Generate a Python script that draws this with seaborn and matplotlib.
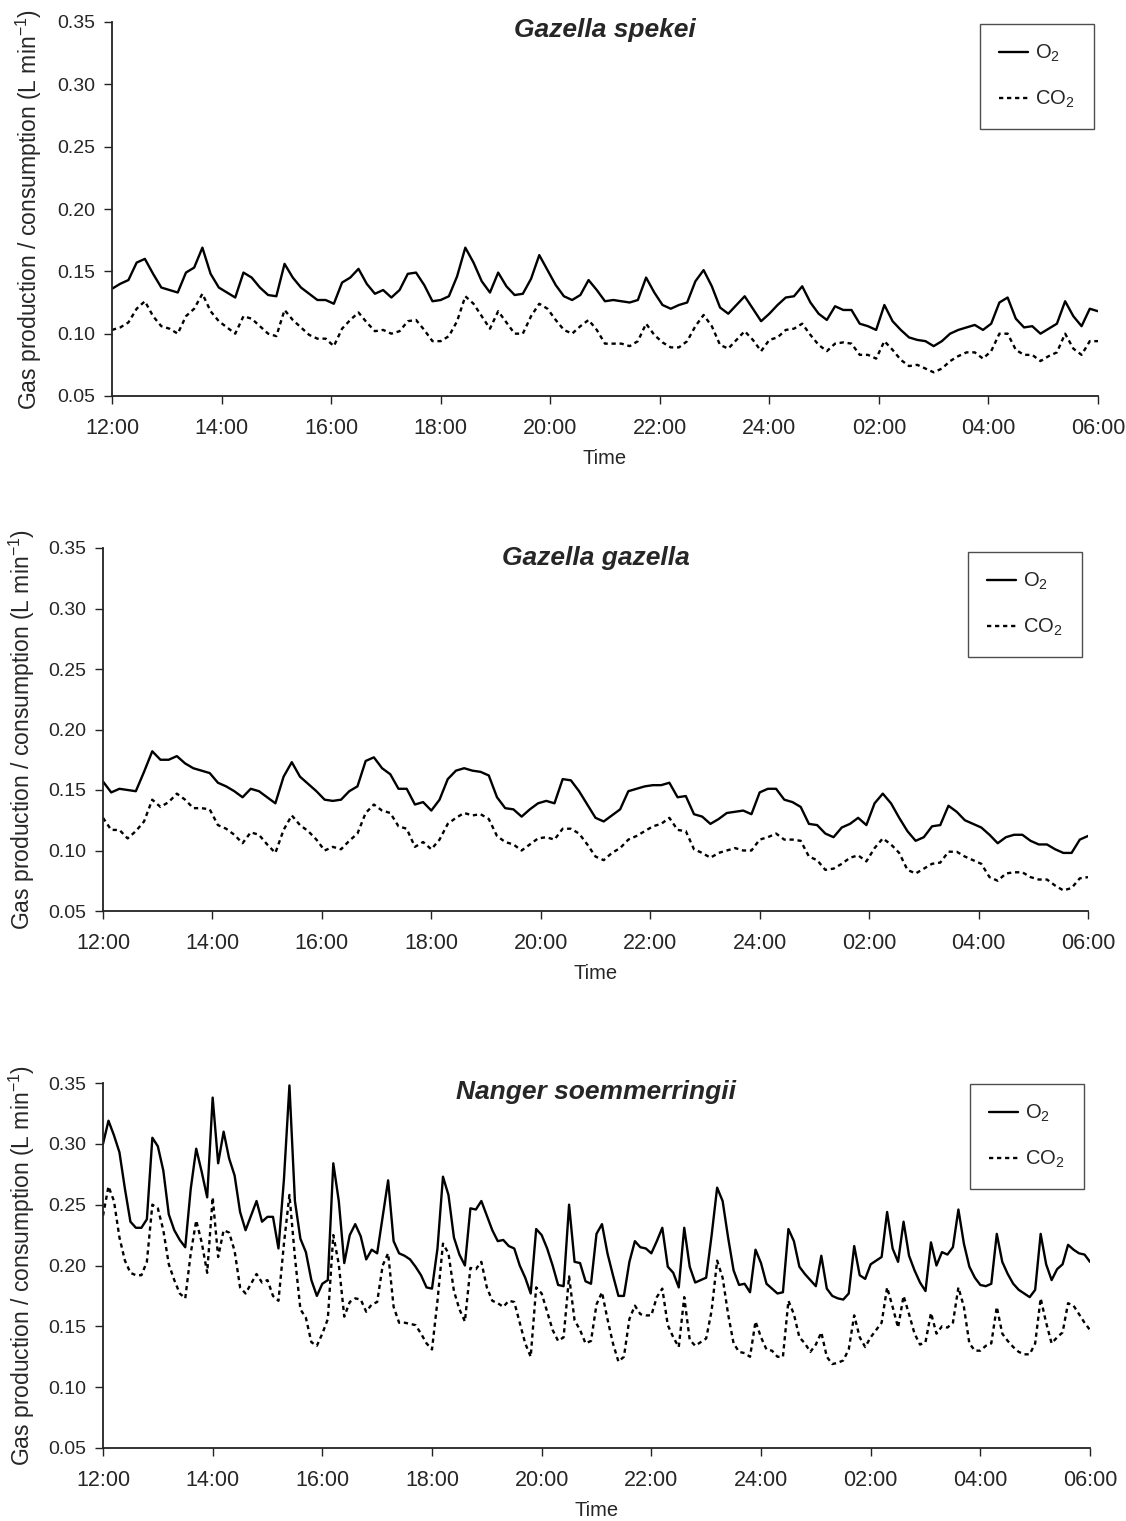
"""
Gas exchange (O2 consumption / CO2 production) over an 18 h run
for three gazelle species, one panel per species.
"""

import numpy as np
import pandas as pd
import matplotlib

matplotlib.use("Agg")
import matplotlib.pyplot as plt
import seaborn as sns

# ── Data (L min-1) ─────────────────────────────────────────────────────────
TICK_LABELS = ["12:00", "14:00", "16:00", "18:00", "20:00",
               "22:00", "24:00", "02:00", "04:00", "06:00"]
TICK_HOURS = [0, 2, 4, 6, 8, 10, 12, 14, 16, 18]

SPECIES = ["Gazella spekei", "Gazella gazella", "Nanger soemmerringii"]
SAMPLE_MIN = [9, 9, 6]  # sampling interval per panel, minutes

spekei_o2 = [
    0.136, 0.140, 0.143, 0.157, 0.160, 0.148, 0.137, 0.135, 0.133, 0.149,
    0.153, 0.169, 0.148, 0.137, 0.133, 0.129, 0.149, 0.145, 0.137, 0.131,
    0.130, 0.156, 0.145, 0.137, 0.132, 0.127, 0.127, 0.124, 0.141, 0.145,
    0.152, 0.140, 0.132, 0.135, 0.129, 0.135, 0.148, 0.149, 0.139, 0.126,
    0.127, 0.130,
    0.146, 0.169, 0.157, 0.142, 0.133, 0.149, 0.138, 0.131, 0.132, 0.144,
    0.163, 0.151, 0.139, 0.130, 0.127, 0.131, 0.143, 0.135, 0.126, 0.127,
    0.126, 0.125, 0.127, 0.145, 0.133, 0.123, 0.120, 0.123, 0.125, 0.142,
    0.151, 0.138, 0.121, 0.116, 0.123, 0.130, 0.120, 0.110, 0.116, 0.123,
    0.129,
    0.130, 0.138, 0.125, 0.116, 0.111, 0.122, 0.119, 0.119, 0.108, 0.106,
    0.103, 0.123, 0.110, 0.103, 0.097, 0.095, 0.094, 0.090, 0.094, 0.100,
    0.103, 0.105, 0.107, 0.103, 0.108, 0.125, 0.129, 0.112, 0.105, 0.106,
    0.100, 0.104, 0.108, 0.126, 0.114, 0.106, 0.120, 0.118,
]
spekei_co2 = [
    0.103, 0.105, 0.109, 0.120, 0.126, 0.114, 0.106, 0.104, 0.100, 0.114,
    0.120, 0.132, 0.118, 0.110, 0.105, 0.100, 0.114, 0.112, 0.106, 0.100,
    0.098, 0.119, 0.111, 0.105, 0.099, 0.096, 0.096, 0.090, 0.104, 0.111,
    0.117, 0.109, 0.102, 0.103, 0.100, 0.102, 0.110, 0.111, 0.103, 0.094,
    0.094, 0.098,
    0.110, 0.130, 0.124, 0.114, 0.104, 0.118, 0.109, 0.100, 0.100, 0.114,
    0.124, 0.120, 0.111, 0.103, 0.100, 0.106, 0.111, 0.103, 0.092, 0.092,
    0.092, 0.090, 0.094, 0.108, 0.099, 0.093, 0.089, 0.089, 0.094, 0.106,
    0.115, 0.106, 0.091, 0.088, 0.095, 0.102, 0.095, 0.086, 0.095, 0.097,
    0.103,
    0.104, 0.108, 0.099, 0.091, 0.086, 0.092, 0.093, 0.092, 0.083, 0.083,
    0.080, 0.094, 0.087, 0.079, 0.074, 0.075, 0.072, 0.069, 0.072, 0.078,
    0.082, 0.085, 0.085, 0.080, 0.086, 0.100, 0.100, 0.087, 0.083, 0.083,
    0.078, 0.082, 0.085, 0.100, 0.088, 0.083, 0.094, 0.094,
]

gazella_o2 = [
    0.157, 0.148, 0.151, 0.150, 0.149, 0.165, 0.182, 0.175, 0.175, 0.178,
    0.172, 0.168, 0.166, 0.164, 0.156, 0.153, 0.149, 0.144, 0.151, 0.149,
    0.144, 0.139, 0.161, 0.173, 0.161, 0.155, 0.149, 0.142, 0.141, 0.142,
    0.149, 0.153, 0.174, 0.177, 0.168, 0.163, 0.151, 0.151, 0.138, 0.140,
    0.133, 0.142, 0.159,
    0.166, 0.168, 0.166, 0.165, 0.162, 0.144, 0.135, 0.134, 0.128, 0.134,
    0.139, 0.141, 0.139, 0.159, 0.158, 0.149, 0.138, 0.127, 0.124, 0.129,
    0.134, 0.149, 0.151, 0.153, 0.154, 0.154, 0.156, 0.144, 0.145, 0.130,
    0.128, 0.122, 0.126, 0.131, 0.132, 0.133, 0.130, 0.148, 0.151, 0.151,
    0.142,
    0.140, 0.136, 0.122, 0.121, 0.114, 0.111, 0.119, 0.122, 0.127, 0.121,
    0.139, 0.147, 0.139, 0.127, 0.116, 0.108, 0.111, 0.120, 0.121, 0.137,
    0.132, 0.125, 0.122, 0.119, 0.113, 0.106, 0.111, 0.113, 0.113, 0.108,
    0.105, 0.105, 0.101, 0.098, 0.098, 0.109, 0.112,
]
gazella_co2 = [
    0.127, 0.117, 0.117, 0.110, 0.116, 0.124, 0.142, 0.136, 0.140, 0.147,
    0.142, 0.135, 0.135, 0.134, 0.121, 0.118, 0.113, 0.106, 0.115, 0.113,
    0.105, 0.098, 0.117, 0.129, 0.121, 0.116, 0.109, 0.100, 0.103, 0.101,
    0.108, 0.114, 0.131, 0.138, 0.133, 0.131, 0.120, 0.118, 0.103, 0.107,
    0.101, 0.109, 0.122,
    0.127, 0.131, 0.129, 0.130, 0.126, 0.112, 0.107, 0.105, 0.100, 0.105,
    0.110, 0.111, 0.109, 0.118, 0.118, 0.114, 0.105, 0.095, 0.092, 0.098,
    0.102, 0.109, 0.112, 0.116, 0.120, 0.122, 0.127, 0.117, 0.116, 0.101,
    0.098, 0.094, 0.098, 0.100, 0.102, 0.100, 0.100, 0.109, 0.111, 0.114,
    0.109,
    0.109, 0.108, 0.095, 0.092, 0.084, 0.085, 0.089, 0.094, 0.096, 0.091,
    0.102, 0.110, 0.105, 0.098, 0.084, 0.081, 0.085, 0.089, 0.090, 0.099,
    0.099, 0.095, 0.092, 0.089, 0.078, 0.075, 0.081, 0.082, 0.082, 0.078,
    0.076, 0.076, 0.071, 0.067, 0.069, 0.077, 0.078,
]

nanger_o2 = [
    0.300, 0.319, 0.307, 0.293, 0.263, 0.236, 0.231, 0.231, 0.238, 0.305,
    0.298, 0.278, 0.242, 0.229, 0.221, 0.215, 0.263, 0.296, 0.277, 0.256,
    0.338, 0.284, 0.310, 0.288, 0.274, 0.244, 0.229, 0.241, 0.253, 0.236,
    0.240, 0.240, 0.214, 0.271, 0.348, 0.253, 0.222, 0.211, 0.188, 0.175,
    0.185, 0.188, 0.284, 0.253, 0.202, 0.225, 0.234, 0.224, 0.205, 0.213,
    0.210, 0.240, 0.270, 0.220, 0.210, 0.208, 0.205, 0.199, 0.192, 0.182,
    0.181, 0.214, 0.273,
    0.258, 0.223, 0.209, 0.200, 0.247, 0.246, 0.253, 0.241, 0.229, 0.220,
    0.221, 0.216, 0.214, 0.200, 0.190, 0.177, 0.230, 0.225, 0.214, 0.200,
    0.184, 0.183, 0.250, 0.203, 0.202, 0.187, 0.185, 0.226, 0.234, 0.210,
    0.192, 0.175, 0.175, 0.203, 0.220, 0.215, 0.214, 0.210, 0.220, 0.231,
    0.199, 0.194, 0.182, 0.231, 0.199, 0.186, 0.188, 0.190, 0.225, 0.264,
    0.253, 0.223, 0.196, 0.184, 0.185, 0.178, 0.213, 0.202, 0.185, 0.181,
    0.177, 0.178, 0.230,
    0.220, 0.199, 0.193, 0.188, 0.183, 0.208, 0.181, 0.175, 0.173, 0.172,
    0.177, 0.216, 0.192, 0.189, 0.201, 0.204, 0.207, 0.244, 0.214, 0.203,
    0.236, 0.208, 0.196, 0.186, 0.179, 0.219, 0.200, 0.211, 0.209, 0.215,
    0.246, 0.218, 0.199, 0.190, 0.184, 0.183, 0.185, 0.226, 0.203, 0.193,
    0.185, 0.180, 0.177, 0.174, 0.180, 0.226, 0.201, 0.188, 0.197, 0.201,
    0.217, 0.213, 0.210, 0.209, 0.203,
]
nanger_co2 = [
    0.241, 0.265, 0.253, 0.223, 0.204, 0.194, 0.192, 0.192, 0.203, 0.250,
    0.247, 0.229, 0.201, 0.188, 0.177, 0.173, 0.210, 0.237, 0.219, 0.194,
    0.256, 0.207, 0.229, 0.227, 0.212, 0.182, 0.177, 0.185, 0.193, 0.186,
    0.188, 0.175, 0.171, 0.218, 0.258, 0.207, 0.164, 0.157, 0.137, 0.134,
    0.144, 0.156, 0.225, 0.201, 0.158, 0.170, 0.173, 0.172, 0.162, 0.168,
    0.170, 0.200, 0.210, 0.166, 0.153, 0.153, 0.152, 0.151, 0.144, 0.136,
    0.131, 0.171, 0.218,
    0.210, 0.179, 0.164, 0.154, 0.198, 0.197, 0.203, 0.182, 0.171, 0.169,
    0.166, 0.171, 0.170, 0.153, 0.136, 0.125, 0.182, 0.177, 0.162, 0.147,
    0.138, 0.141, 0.191, 0.155, 0.147, 0.136, 0.138, 0.168, 0.178, 0.156,
    0.136, 0.121, 0.125, 0.156, 0.167, 0.160, 0.159, 0.159, 0.174, 0.181,
    0.151, 0.141, 0.133, 0.174, 0.139, 0.134, 0.137, 0.140, 0.163, 0.204,
    0.190, 0.160, 0.136, 0.129, 0.128, 0.125, 0.154, 0.141, 0.131, 0.130,
    0.125, 0.125, 0.171,
    0.160, 0.141, 0.136, 0.129, 0.135, 0.145, 0.125, 0.119, 0.120, 0.122,
    0.131, 0.159, 0.141, 0.133, 0.141, 0.147, 0.153, 0.182, 0.166, 0.149,
    0.175, 0.160, 0.144, 0.135, 0.137, 0.161, 0.144, 0.150, 0.149, 0.153,
    0.182, 0.166, 0.136, 0.130, 0.130, 0.134, 0.136, 0.166, 0.144, 0.138,
    0.133, 0.129, 0.127, 0.127, 0.136, 0.173, 0.153, 0.136, 0.141, 0.145,
    0.169, 0.167, 0.160, 0.153, 0.147,
]

O2_SERIES = [spekei_o2, gazella_o2, nanger_o2]
CO2_SERIES = [spekei_co2, gazella_co2, nanger_co2]

W, H = 1126, 1521
AX_BOXES = [  # left, top, right, bottom
    (112, 22, 1098, 396),
    (103, 548, 1088, 911),
    (103, 1083, 1090, 1448),
]
LEGEND_CORNER = [(1094, 24), (1082, 552), (1084, 1084)]  # upper-right
TITLE_OFFSET = [8, 10, 9]  # below the axes top
YLABEL_RIGHT = [44, 37, 37]  # right edge of rotated y label

sns.set_style("ticks")
plt.rcParams["font.family"] = ["Liberation Sans", "DejaVu Sans"]
plt.rcParams["mathtext.fontset"] = "custom"
plt.rcParams["mathtext.rm"] = "Liberation Sans"
plt.rcParams["mathtext.it"] = "Liberation Sans:italic"
plt.rcParams["mathtext.default"] = "regular"

DOTTED = (0, (1.8, 1.6))

fig = plt.figure(figsize=(W / 100, H / 100), dpi=100)

for i, species in enumerate(SPECIES):
    l, t, r, b = AX_BOXES[i]
    ax = fig.add_axes([l / W, 1 - b / H, (r - l) / W, (b - t) / H])

    o2 = O2_SERIES[i]
    co2 = CO2_SERIES[i]
    hours = np.arange(len(o2)) * SAMPLE_MIN[i] / 60
    df = pd.DataFrame({"hours": hours, "o2": o2, "co2": co2})

    sns.lineplot(data=df, x="hours", y="o2", ax=ax, color="black",
                 linewidth=1.7, label="O$_2$", sort=False)
    sns.lineplot(data=df, x="hours", y="co2", ax=ax, color="black",
                 linewidth=1.7, linestyle=DOTTED, label="CO$_2$", sort=False)

    ax.set_xlim(0, 18)
    ax.set_ylim(0.05, 0.35)
    ax.set_xticks(TICK_HOURS)
    ax.set_xticklabels(TICK_LABELS)
    ax.set_yticks(np.arange(0.05, 0.351, 0.05))
    ax.yaxis.set_major_formatter(matplotlib.ticker.FormatStrFormatter("%.2f"))

    sns.despine(ax=ax)
    for side in ["left", "bottom"]:
        ax.spines[side].set_linewidth(1.3)
        ax.spines[side].set_color("#222222")
    ax.tick_params(direction="out", length=6, width=1.0, color="#222222")
    ax.tick_params(axis="x", pad=10, labelsize=15.5)
    ax.tick_params(axis="y", pad=6, labelsize=14)

    ax.set_xlabel("Time", fontsize=14.5, labelpad=7)
    ax.set_ylabel("Gas production / consumption (L min$^{-1}$)", fontsize=16.5)
    ax.yaxis.set_label_coords((YLABEL_RIGHT[i] - l) / (r - l), 0.5)

    ax.text(0.5, 1 - TITLE_OFFSET[i] / (b - t), species,
            transform=ax.transAxes, ha="center", va="center",
            fontsize=19, fontweight="bold", fontstyle="italic")

    lx, ly = LEGEND_CORNER[i]
    leg = ax.legend(loc="upper right", bbox_to_anchor=(lx / W, 1 - ly / H),
                    bbox_transform=fig.transFigure, borderaxespad=0,
                    frameon=True, fancybox=False, fontsize=14.5,
                    handlelength=1.45, handletextpad=0.35,
                    labelspacing=1.2, borderpad=0.95)
    leg.get_frame().set_edgecolor("#222222")
    leg.get_frame().set_linewidth(1.0)

fig.savefig("out.png", dpi=100)
